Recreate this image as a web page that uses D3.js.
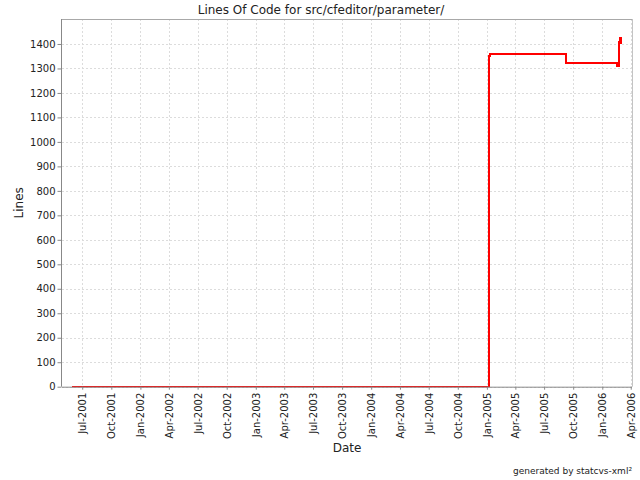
<!DOCTYPE html>
<html>
<head>
<meta charset="utf-8">
<script src="https://cdn.jsdelivr.net/npm/d3@7"></script>
<style>
  html, body { margin: 0; padding: 0; background: #fff; }
  svg { display: block; font-family: "DejaVu Sans", "Liberation Sans", sans-serif; }
</style>
</head>
<body>
<svg id="chart" width="640" height="480"></svg>
<script>
// ---- data ----
const dates = ["2001-05-29", "2005-01-07", "2005-01-11", "2005-09-09", "2006-02-18", "2006-02-24", "2006-02-27", "2006-02-28", "2006-03-01", "2006-03-02"];
const lines = [0, 1352, 1358, 1322, 1310, 1410, 1426, 1398, 1426, 1420];
const xTickLabels = ["Jul-2001","Oct-2001","Jan-2002","Apr-2002","Jul-2002","Oct-2002","Jan-2003","Apr-2003","Jul-2003","Oct-2003","Jan-2004","Apr-2004","Jul-2004","Oct-2004","Jan-2005","Apr-2005","Jul-2005","Oct-2005","Jan-2006","Apr-2006"];
const yTicks = [0,100,200,300,400,500,600,700,800,900,1000,1100,1200,1300,1400];
const xDomain = ["2001-04-28", "2006-04-05"];
const yDomain = [0, 1500];
const titleText = "Lines Of Code for src/cfeditor/parameter/";

// ---- layout ----
const svg = d3.select("#chart");
const L = 62, T = 19, R = 632, B = 386.7;
const parse = d3.utcParse("%Y-%m-%d");
const parseTick = d3.utcParse("%b-%Y");
const x = d3.scaleUtc().domain(xDomain.map(parse)).range([L, R]);
const y = d3.scaleLinear().domain(yDomain).range([B, T + 0.5]);

const data = dates.map((d, i) => ({ date: parse(d), v: lines[i] }));

svg.append("rect").attr("x", 0).attr("y", 0).attr("width", 640).attr("height", 480).attr("fill", "#fff");

// gridlines
const grid = svg.append("g");
grid.selectAll("line.gy").data(yTicks).join("line")
  .attr("x1", L).attr("x2", R)
  .attr("y1", d => Math.round(y(d)) + 0.5).attr("y2", d => Math.round(y(d)) + 0.5)
  .attr("stroke", "#dcdcdc").attr("stroke-width", 1).attr("stroke-dasharray", "2,2");
grid.selectAll("line.gx").data(xTickLabels).join("line")
  .attr("x1", d => Math.round(x(parseTick(d))) + 0.5).attr("x2", d => Math.round(x(parseTick(d))) + 0.5)
  .attr("y1", T).attr("y2", B)
  .attr("stroke", "#dcdcdc").attr("stroke-width", 1).attr("stroke-dasharray", "2,2");

// plot outline
svg.append("line").attr("x1", L).attr("x2", R + 0.5).attr("y1", T + 0.5).attr("y2", T + 0.5).attr("stroke", "#a8a8a8");
svg.append("line").attr("x1", R + 0.5).attr("x2", R + 0.5).attr("y1", T).attr("y2", B).attr("stroke", "#c4c4c4");

// data line
svg.append("clipPath").attr("id", "clip").append("rect")
  .attr("x", L).attr("y", T).attr("width", R - L).attr("height", B - T + 0.5);
const lineGen = d3.line().x(d => Math.round(x(d.date))).y(d => Math.round(y(d.v))).curve(d3.curveStepAfter);
svg.append("path").datum(data)
  .attr("clip-path", "url(#clip)")
  .attr("fill", "none").attr("stroke", "#ff0000").attr("stroke-width", 2)
  .attr("shape-rendering", "crispEdges")
  .attr("d", lineGen);

// y axis
const yAxis = d3.axisLeft(y).tickValues(yTicks).tickSize(4).tickPadding(2).tickFormat(d3.format("d"));
const gy = svg.append("g").attr("transform", `translate(${L - 0.5},0)`).call(yAxis);
gy.select(".domain").attr("stroke", "#888").attr("d", `M0,${T}V${B}`);
gy.selectAll(".tick line").attr("stroke", "#888");
gy.selectAll(".tick text").attr("font-size", 10).attr("fill", "#222").attr("font-family", "DejaVu Sans");

// x axis
const xAxis = d3.axisBottom(x).tickValues(xTickLabels.map(parseTick)).tickSize(3).tickFormat((d, i) => xTickLabels[i]);
const gx = svg.append("g").attr("transform", `translate(0,${B})`).call(xAxis);
gx.select(".domain").attr("stroke", "#888").attr("d", `M${L},0.5H${R}`);
gx.selectAll(".tick line").attr("stroke", "#888");
gx.selectAll(".tick text")
  .attr("font-size", 10).attr("fill", "#222").attr("font-family", "DejaVu Sans")
  .attr("transform", "rotate(-90)")
  .attr("text-anchor", "end")
  .attr("x", -6).attr("y", 0).attr("dy", "0.35em");

// titles
svg.append("text").attr("x", 321).attr("y", 14).attr("text-anchor", "middle")
  .attr("font-size", 12).attr("fill", "#222").text(titleText);
svg.append("text").attr("x", (L + R) / 2).attr("y", 452).attr("text-anchor", "middle")
  .attr("font-size", 12).attr("fill", "#222").text("Date");
svg.append("text").attr("transform", `translate(23,${(T + B) / 2}) rotate(-90)`).attr("text-anchor", "middle")
  .attr("font-size", 12).attr("fill", "#222").text("Lines");
svg.append("text").attr("x", 632).attr("y", 474).attr("text-anchor", "end")
  .attr("font-size", 9).attr("fill", "#222").text("generated by statcvs-xml²");
</script>
</body>
</html>
